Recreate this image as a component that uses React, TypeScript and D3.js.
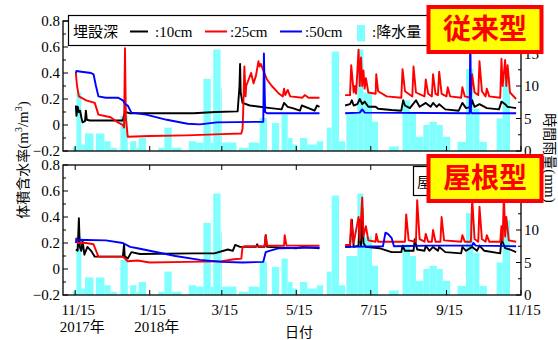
import { useEffect, useRef } from 'react';
import * as d3 from 'd3';

type Pt = [string, number | null];

// 時間雨量 (mm): period start, period end, value
const rainFrom = ['2017-11-13','2017-11-16','2017-11-20','2017-11-23','2017-12-02','2017-12-09','2017-12-14','2017-12-22','2017-12-30','2018-01-04','2018-01-06','2018-01-22','2018-01-27','2018-02-02','2018-02-16','2018-02-22','2018-02-28','2018-03-06','2018-03-08','2018-03-14','2018-03-15','2018-03-21','2018-03-29','2018-04-06','2018-04-15','2018-04-25','2018-05-03','2018-05-08','2018-05-12','2018-05-18','2018-05-24','2018-06-01','2018-06-09','2018-06-13','2018-06-19','2018-06-25','2018-07-04','2018-07-09','2018-07-16','2018-07-30','2018-08-10','2018-08-16','2018-08-21','2018-08-27','2018-09-01','2018-09-07','2018-09-12','2018-09-24','2018-10-01','2018-10-07','2018-10-12','2018-10-26','2018-10-31'];
const rainTo = ['2017-11-16','2017-11-20','2017-11-23','2017-11-30','2017-12-09','2017-12-14','2017-12-19','2017-12-28','2018-01-04','2018-01-06','2018-01-12','2018-01-27','2018-02-02','2018-02-10','2018-02-22','2018-02-28','2018-03-06','2018-03-08','2018-03-14','2018-03-15','2018-03-21','2018-03-27','2018-04-06','2018-04-15','2018-04-21','2018-05-01','2018-05-08','2018-05-12','2018-05-16','2018-05-24','2018-06-01','2018-06-06','2018-06-13','2018-06-19','2018-06-24','2018-07-04','2018-07-09','2018-07-16','2018-07-21','2018-08-07','2018-08-16','2018-08-21','2018-08-27','2018-09-01','2018-09-07','2018-09-12','2018-09-18','2018-10-01','2018-10-07','2018-10-12','2018-10-18','2018-10-31','2018-11-06'];
const rainMm = [0.6,9,1,2.7,2.7,1.5,0.5,5.4,1.5,0.5,2,0.5,3.6,0.5,1.5,1.3,11.1,1.3,15.6,9.6,1.3,1.3,0.5,1.3,5.1,4.3,5.6,2,1,2,1,1.5,3.6,15.3,1.5,6,15.6,9,4.5,0.7,7.8,6,2.2,4,4.5,4,2.2,1.4,12.6,6.5,1.4,5,11.5];

// 従来型 体積含水率
const conv10: Pt[] = [
  ['2017-11-15 12',0.15],['2017-11-16',0.07],['2017-11-17',0.14],['2017-11-18',0.1],['2017-11-19',0.11],['2017-11-20',0.06],['2017-11-21',0.02],['2017-11-23',0.03],['2017-11-23 18',0.11],['2017-11-24 12',0.04],['2017-11-27',0.035],['2017-12-24',0.035],['2017-12-25',0.08],['2017-12-26',0.1],['2017-12-30',0.09],['2018-01-10',0.09],['2018-02-20',0.09],['2018-03-10',0.1],['2018-03-28',0.105],['2018-03-29 12',0.3],['2018-03-30',0.47],['2018-03-30 12',0.25],['2018-04-01',0.17],['2018-04-07',0.15],['2018-04-15',0.14],['2018-04-24',0.13],['2018-05-03',0.12],['2018-05-05',0.17],['2018-05-08',0.14],['2018-05-12',0.13],['2018-05-18',0.11],['2018-05-19 12',0.15],['2018-05-25',0.13],['2018-05-30',0.11],['2018-06-01',0.15],['2018-06-03',0.14],
  ['2018-06-10',null],
  ['2018-06-24',0.15],['2018-06-28',0.16],['2018-06-29 12',0.19],['2018-07-01',0.15],['2018-07-04',0.16],['2018-07-06',0.2],['2018-07-08',0.16],['2018-07-10',0.18],['2018-07-13',0.14],['2018-07-19',0.14],['2018-07-21',0.125],['2018-08-01',0.115],['2018-08-09',0.11],['2018-08-10 12',0.19],['2018-08-12',0.15],['2018-08-16',0.13],['2018-08-21',0.19],['2018-08-24',0.14],['2018-08-29',0.17],['2018-09-02',0.14],['2018-09-04',0.17],['2018-09-07',0.14],['2018-09-09',0.16],['2018-09-14',0.12],['2018-09-25',0.11],['2018-09-28',0.17],['2018-10-01',0.13],['2018-10-05',0.14],['2018-10-06',0.19],['2018-10-08',0.14],['2018-10-12',0.16],['2018-10-18',0.13],['2018-10-28',0.12],['2018-10-30',0.18],['2018-11-02',0.16],['2018-11-04',0.14],['2018-11-11',0.13],
];
const conv25: Pt[] = [
  ['2017-11-15 12',0.4],['2017-11-16 12',0.3],['2017-11-18',0.22],['2017-11-24',0.19],['2017-12-01',0.17],['2017-12-04',0.08],['2017-12-14',0.06],['2017-12-20',0.02],['2017-12-24',0],['2017-12-25',-0.02],['2017-12-25 18',0.59],['2017-12-26 12',0.05],['2017-12-28',-0.09],['2018-01-15',-0.085],['2018-02-14',-0.08],['2018-03-15',-0.07],['2018-03-31',-0.065],['2018-04-01',-0.03],['2018-04-01 12',0.09],['2018-04-02 12',0.45],['2018-04-03 12',0.22],['2018-04-04',0.3],['2018-04-06',0.35],['2018-04-08',0.4],['2018-04-10',0.32],['2018-04-12',0.38],['2018-04-14',0.49],['2018-04-15',0.45],['2018-04-16',0.47],['2018-04-18',0.42],['2018-04-21',0.35],['2018-04-25',0.3],['2018-05-01',0.24],['2018-05-04',0.22],['2018-05-05',0.28],['2018-05-06',0.23],['2018-05-08',0.27],['2018-05-10',0.22],['2018-05-20',0.21],['2018-05-22',0.23],['2018-05-25',0.21],['2018-06-03',0.21],
  ['2018-06-10',null],
  ['2018-06-24',0.23],['2018-06-28',0.23],['2018-06-29',0.46],['2018-07-01',0.25],['2018-07-02',0.3],['2018-07-03',0.24],['2018-07-05',0.58],['2018-07-06',0.3],['2018-07-07',0.52],['2018-07-08',0.3],['2018-07-09',0.42],['2018-07-10',0.28],['2018-07-11',0.36],['2018-07-13',0.25],['2018-07-19',0.24],['2018-07-19 12',0.39],['2018-07-21',0.26],['2018-07-28',0.22],['2018-08-09',0.21],['2018-08-10',0.43],['2018-08-12',0.26],['2018-08-18',0.22],['2018-08-19',0.45],['2018-08-21',0.25],['2018-08-28',0.22],['2018-08-29',0.35],['2018-08-31',0.24],['2018-09-03',0.22],['2018-09-04',0.39],['2018-09-06',0.24],['2018-09-08',0.23],['2018-09-09',0.41],['2018-09-11',0.24],['2018-09-15',0.22],['2018-09-16',0.29],['2018-09-18',0.22],['2018-09-27',0.21],['2018-09-28',0.29],['2018-09-30',0.22],['2018-10-05',0.21],['2018-10-06',0.39],['2018-10-08',0.25],['2018-10-11',0.23],['2018-10-12',0.49],['2018-10-14',0.26],['2018-10-17',0.22],['2018-10-18',0.28],['2018-10-20',0.22],['2018-10-29',0.21],['2018-10-30',0.51],['2018-10-31',0.3],['2018-11-02',0.5],['2018-11-03',0.3],['2018-11-04',0.46],['2018-11-06',0.25],['2018-11-11',0.2],
];
const conv50: Pt[] = [
  ['2017-11-15 12',0.4],['2017-11-16',0.415],['2017-11-20',0.41],['2017-11-28',0.4],['2017-11-30',0.39],['2017-12-02',0.3],['2017-12-04',0.22],['2017-12-10',0.21],['2017-12-20',0.21],['2017-12-24',0.19],['2017-12-26',0.16],['2017-12-28',0.15],['2017-12-31',0.095],['2018-01-12',0.08],['2018-01-29',0.04],['2018-02-15',0.01],['2018-02-25',0.005],['2018-03-11',0.02],['2018-04-18',0.025],['2018-04-18 12',0.55],['2018-04-19 12',0.1],['2018-04-21',0.09],['2018-06-03',0.09],
  ['2018-06-10',null],
  ['2018-06-24',0.09],['2018-07-06',0.095],['2018-07-08',0.12],['2018-07-10',0.095],['2018-10-04',0.09],['2018-10-04 12',0.75],['2018-10-05',0.1],['2018-10-06',0.09],['2018-11-11',0.09],
];

// 屋根型 体積含水率
const roof10: Pt[] = [
  ['2017-11-15 12',0.15],['2017-11-17',0.14],['2017-11-18',0.39],['2017-11-18 18',0.17],['2017-11-20',0.14],['2017-11-21',0.22],['2017-11-22 12',0.11],['2017-11-25',0.17],['2017-11-28',0.14],['2017-12-01',0.095],['2017-12-24',0.095],['2017-12-25',0.19],['2017-12-25 12',0.1],['2017-12-28',0.08],['2017-12-31',0.13],['2018-01-07',0.115],['2018-02-20',0.12],['2018-03-09',0.12],['2018-03-20',0.15],['2018-03-24',0.14],['2018-03-26',0.185],['2018-03-30',0.17],['2018-04-12',0.17],['2018-04-13',0.19],['2018-04-14',0.17],['2018-04-19',0.17],['2018-04-20',0.26],['2018-04-21',0.17],['2018-05-15',0.16],['2018-05-20',0.17],['2018-06-03',0.16],
  ['2018-06-10',null],
  ['2018-06-24',0.17],['2018-06-28',0.17],['2018-06-29 12',0.38],['2018-07-01',0.17],['2018-07-05',0.18],['2018-07-06',0.38],['2018-07-07',0.18],['2018-07-08',0.47],['2018-07-09',0.2],['2018-07-11',0.17],['2018-07-22',0.16],['2018-08-01',0.13],['2018-08-09',0.13],['2018-08-10',0.18],['2018-08-12',0.14],['2018-08-19',0.14],['2018-08-20',0.23],['2018-08-22',0.15],['2018-08-28',0.14],['2018-08-29',0.18],['2018-09-01',0.14],['2018-09-04',0.17],['2018-09-08',0.14],['2018-09-09',0.17],['2018-09-14',0.13],['2018-09-27',0.12],['2018-09-28',0.17],['2018-10-01',0.14],['2018-10-06',0.17],['2018-10-10',0.14],['2018-10-12',0.18],['2018-10-16',0.14],['2018-10-29',0.12],['2018-10-30',0.23],['2018-11-02',0.16],['2018-11-06',0.15],['2018-11-11',0.13],
];
const roof25: Pt[] = [
  ['2017-11-15 12',0.24],['2017-11-17',0.2],['2017-11-24',0.2],['2017-11-30',0.19],['2017-12-04',0.095],['2017-12-24',0.095],['2017-12-28',0.06],['2018-01-05',0.065],['2018-01-15',0.05],['2018-02-15',0.055],['2018-03-15',0.06],['2018-03-25',0.075],['2018-03-31',0.08],['2018-04-01',0.17],['2018-04-03',0.175],['2018-04-19',0.175],['2018-04-20',0.26],['2018-04-21',0.18],['2018-05-05',0.18],['2018-05-05 12',0.26],['2018-05-07',0.18],['2018-06-03',0.18],
  ['2018-06-10',null],
  ['2018-06-24',0.185],['2018-06-28',0.185],['2018-06-29',0.38],['2018-07-01',0.2],['2018-07-05',0.4],['2018-07-06',0.22],['2018-07-08',0.55],['2018-07-09',0.25],['2018-07-11',0.33],['2018-07-13',0.22],['2018-07-19',0.21],['2018-07-19 12',0.27],['2018-07-21',0.21],['2018-08-12',0.21],['2018-08-13',0.42],['2018-08-15',0.22],['2018-08-21',0.21],['2018-08-22',0.53],['2018-08-24',0.23],['2018-08-28',0.21],['2018-08-29',0.27],['2018-08-31',0.21],['2018-09-03',0.21],['2018-09-04',0.3],['2018-09-06',0.21],['2018-09-10',0.21],['2018-09-11',0.4],['2018-09-13',0.22],['2018-09-27',0.21],['2018-09-28',0.26],['2018-09-30',0.21],['2018-10-05',0.21],['2018-10-06',0.55],['2018-10-08',0.23],['2018-10-11',0.21],['2018-10-12',0.48],['2018-10-14',0.23],['2018-10-17',0.21],['2018-10-18',0.26],['2018-10-20',0.21],['2018-10-29',0.21],['2018-10-30',0.33],['2018-10-31',0.22],['2018-11-01',0.58],['2018-11-02',0.25],['2018-11-03',0.4],['2018-11-05',0.22],['2018-11-11',0.21],
];
const roof50: Pt[] = [
  ['2017-11-15 12',0.2],['2017-11-16',0.225],['2017-12-10',0.22],['2017-12-24',0.2],['2017-12-30',0.17],['2018-01-05',0.16],['2018-01-15',0.14],['2018-02-05',0.1],['2018-02-25',0.07],['2018-03-15',0.055],['2018-04-01',0.05],['2018-04-18',0.055],['2018-04-20',0.13],['2018-04-23',0.14],['2018-05-01',0.16],['2018-06-03',0.165],
  ['2018-06-10',null],
  ['2018-06-24',0.17],['2018-07-25',0.175],['2018-07-27',0.28],['2018-07-29',0.27],['2018-08-01',0.24],['2018-08-03',0.175],['2018-09-01',0.18],['2018-10-06',0.18],['2018-10-07',0.2],['2018-10-09',0.18],['2018-11-11',0.175],
];

const xTickDates = ['2017-11-15','2018-01-15','2018-03-15','2018-05-15','2018-07-15','2018-09-15','2018-11-15'];
const xTickLabels = ['11/15','1/15','3/15','5/15','7/15','9/15','11/15'];
const yearLabels = ['2017年','2018年'];
const yTicks = [-0.2, 0, 0.2, 0.4, 0.6, 0.8];
const rainTicks = [0, 5, 10, 15];

const SERIF = '"Liberation Serif", "Noto Sans CJK JP", serif';
const SANS = '"Noto Sans CJK JP", sans-serif';

const parseDay = d3.timeParse('%Y-%m-%d');
const parseHour = d3.timeParse('%Y-%m-%d %H');
const toDate = (s: string) => (s.length > 10 ? parseHour(s) : parseDay(s)) as Date;

export default function App() {
  const svgRef = useRef<SVGSVGElement>(null);

  useEffect(() => {
    if (!svgRef.current) return;
    const svg = d3.select(svgRef.current);
    svg.selectAll('*').remove();

    const left = 63, right = 521;
    const x = d3.scaleTime()
      .domain([toDate('2017-11-05'), toDate('2018-11-15')])
      .range([left, right]);

    const panels = [
      { top: 21, bottom: 151, series: [conv10, conv25, conv50], id: 'p0' },
      { top: 165, bottom: 295, series: [roof10, roof25, roof50], id: 'p1' },
    ];
    const colors = ['#000000', '#ff0000', '#0000ff'];

    panels.forEach((p) => {
      const y = d3.scaleLinear().domain([-0.2, 0.8]).range([p.bottom, p.top]);
      const yr = d3.scaleLinear().domain([0, 20]).range([p.bottom, p.top]);
      const g = svg.append('g');

      g.append('clipPath').attr('id', p.id)
        .append('rect').attr('x', left).attr('y', p.top)
        .attr('width', right - left).attr('height', p.bottom - p.top);

      // rain bars
      g.append('g').selectAll('rect').data(rainMm).join('rect')
        .attr('x', (_, i) => x(toDate(rainFrom[i])))
        .attr('width', (_, i) => x(toDate(rainTo[i])) - x(toDate(rainFrom[i])))
        .attr('y', (d) => yr(d))
        .attr('height', (d) => p.bottom - yr(d))
        .attr('fill', '#80ffff');

      // soil moisture lines
      const line = d3.line<Pt>()
        .defined((d) => d[1] !== null)
        .x((d) => x(toDate(d[0])))
        .y((d) => y(d[1] as number));
      p.series.forEach((s, i) => {
        g.append('path').datum(s)
          .attr('clip-path', `url(#${p.id})`)
          .attr('d', line)
          .attr('fill', 'none')
          .attr('stroke', colors[i])
          .attr('stroke-width', 1.9)
          .attr('stroke-linejoin', 'round');
      });

      // frame
      g.append('rect').attr('x', left).attr('y', p.top)
        .attr('width', right - left).attr('height', p.bottom - p.top)
        .attr('fill', 'none').attr('stroke', '#000').attr('stroke-width', 1.3);

      // left ticks
      d3.range(-0.2, 0.81, 0.1).forEach((v, i) => {
        g.append('line').attr('x1', left).attr('x2', left + (i % 2 === 0 ? 5 : 3))
          .attr('y1', y(v)).attr('y2', y(v)).attr('stroke', '#000');
      });
      yTicks.forEach((v) => {
        g.append('text').attr('x', left - 3).attr('y', y(v) + 5)
          .attr('text-anchor', 'end').attr('font-family', SERIF).attr('font-size', 15)
          .text(v < 0 ? '\u2212' + Math.abs(v).toFixed(1) : v === 0 ? '0' : v.toFixed(1));
      });

      // right (rain) ticks
      d3.range(0, 20.1, 2.5).forEach((v, i) => {
        g.append('line').attr('x1', right).attr('x2', right - (i % 2 === 0 ? 5 : 3))
          .attr('y1', yr(v)).attr('y2', yr(v)).attr('stroke', '#000');
      });
      rainTicks.forEach((v) => {
        g.append('text').attr('x', right + 3).attr('y', yr(v) + 5)
          .attr('font-family', SERIF).attr('font-size', 15).text(String(v));
      });

      // date ticks top & bottom
      xTickDates.forEach((s) => {
        const xx = x(toDate(s));
        g.append('line').attr('x1', xx).attr('x2', xx).attr('y1', p.bottom).attr('y2', p.bottom - 5).attr('stroke', '#000');
        g.append('line').attr('x1', xx).attr('x2', xx).attr('y1', p.top).attr('y2', p.top + 5).attr('stroke', '#000');
      });
    });

    // x tick labels
    xTickDates.forEach((s, i) => {
      svg.append('text').attr('x', x(toDate(s)) + 3).attr('y', 315)
        .attr('text-anchor', 'middle').attr('font-family', SERIF).attr('font-size', 15)
        .text(xTickLabels[i]);
    });
    yearLabels.forEach((t, i) => {
      svg.append('text').attr('x', x(toDate(xTickDates[i])) + 7).attr('y', 332)
        .attr('text-anchor', 'middle').attr('font-family', SERIF).attr('font-size', 15)
        .text(t);
    });
    svg.append('text').attr('x', 299).attr('y', 337).attr('text-anchor', 'middle')
      .attr('font-family', SANS).attr('font-size', 14).text('日付');

    // y axis titles
    const yl = svg.append('text').attr('transform', 'translate(28,160) rotate(-90)')
      .attr('text-anchor', 'middle').attr('font-size', 14);
    yl.append('tspan').attr('font-family', SANS).text('体積含水率');
    yl.append('tspan').attr('font-family', SERIF).attr('font-size', 15).text('(m');
    yl.append('tspan').attr('font-family', SERIF).attr('font-size', 10).attr('dy', -6).text('3');
    yl.append('tspan').attr('font-family', SERIF).attr('font-size', 15).attr('dy', 6).text('/m');
    yl.append('tspan').attr('font-family', SERIF).attr('font-size', 10).attr('dy', -6).text('3');
    yl.append('tspan').attr('font-family', SERIF).attr('font-size', 15).attr('dy', 6).text(')');

    const yr = svg.append('text').attr('transform', 'translate(545,158) rotate(90)')
      .attr('text-anchor', 'middle').attr('font-size', 14);
    yr.append('tspan').attr('font-family', SANS).text('時間雨量');
    yr.append('tspan').attr('font-family', SERIF).attr('font-size', 15).text('(mm)');

    // legend
    const lg = svg.append('g');
    lg.append('rect').attr('x', 68.5).attr('y', 15.5).attr('width', 400).attr('height', 30)
      .attr('fill', '#fff').attr('stroke', '#000').attr('stroke-width', 1.2);
    lg.append('text').attr('x', 73).attr('y', 37).attr('font-family', SANS).attr('font-size', 15).text('埋設深');
    const items = [
      { x1: 130, x2: 148, tx: 155, label: ':10cm', c: colors[0] },
      { x1: 205, x2: 227, tx: 230, label: ':25cm', c: colors[1] },
      { x1: 280, x2: 302, tx: 305, label: ':50cm', c: colors[2] },
    ];
    items.forEach((it) => {
      lg.append('line').attr('x1', it.x1).attr('x2', it.x2).attr('y1', 31.5).attr('y2', 31.5)
        .attr('stroke', it.c).attr('stroke-width', 2);
      lg.append('text').attr('x', it.tx).attr('y', 37).attr('font-family', SERIF).attr('font-size', 15).text(it.label);
    });
    lg.append('rect').attr('x', 357).attr('y', 25).attr('width', 8).attr('height', 16.5).attr('fill', '#80ffff');
    lg.append('text').attr('x', 372).attr('y', 37).attr('font-family', SERIF).attr('font-size', 15).text(':降水量');

    // original small panel label (mostly hidden)
    svg.append('rect').attr('x', 413.5).attr('y', 166.5).attr('width', 70).attr('height', 29)
      .attr('fill', '#fff').attr('stroke', '#000').attr('stroke-width', 1.2);
    svg.append('text').attr('x', 417).attr('y', 187).attr('font-family', SANS).attr('font-size', 14).text('屋根型');

    // big labels
    const labels = [
      { y: 5, text: '従来型' },
      { y: 154, text: '屋根型' },
    ];
    labels.forEach((l) => {
      svg.append('rect').attr('x', 428.5).attr('y', l.y + 2).attr('width', 113).attr('height', 45)
        .attr('fill', '#ffff00').attr('stroke', '#ff0000').attr('stroke-width', 4);
      svg.append('text').attr('x', 485).attr('y', l.y + 34).attr('text-anchor', 'middle')
        .attr('font-family', SANS).attr('font-weight', 700).attr('font-size', 28)
        .attr('fill', '#ff0000').text(l.text);
    });
  }, []);

  return (
    <svg
      ref={svgRef}
      width={558}
      height={340}
      style={{ position: 'absolute', left: 0, top: 0, background: '#fff' }}
    />
  );
}
